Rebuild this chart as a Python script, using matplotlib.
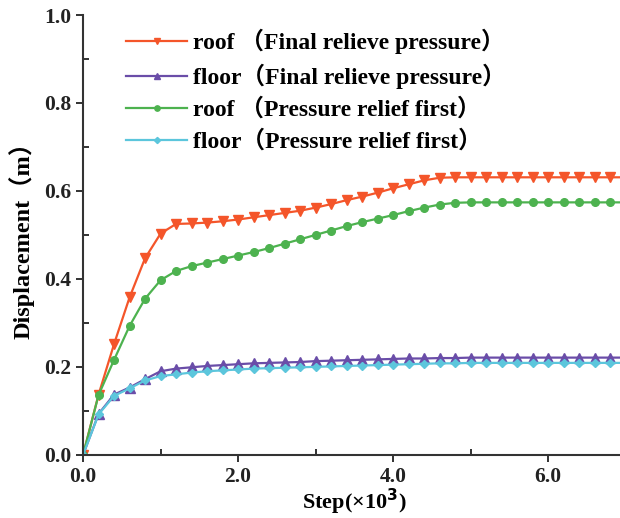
import numpy as np
import matplotlib
matplotlib.use('Agg')
import matplotlib.pyplot as plt
from matplotlib.ticker import MultipleLocator

plt.rcParams['font.family'] = ['Liberation Serif', 'Noto Sans CJK SC']
plt.rcParams['font.weight'] = 'bold'

# step values (x10^3), one point every 200 steps
steps = [round(0.2 * i, 1) for i in range(36)]

roof_final = [0.0, 0.137, 0.252, 0.358, 0.447, 0.503, 0.525, 0.526, 0.528, 0.531,
              0.535, 0.540, 0.545, 0.550, 0.555, 0.562, 0.570, 0.579, 0.587, 0.596,
              0.606, 0.615, 0.624, 0.630, 0.631, 0.631, 0.631, 0.631, 0.631, 0.631,
              0.631, 0.631, 0.631, 0.631, 0.631, 0.631]
floor_final = [0.0, 0.093, 0.137, 0.153, 0.172, 0.190, 0.196, 0.199, 0.202, 0.204,
               0.206, 0.208, 0.209, 0.210, 0.211, 0.213, 0.214, 0.215, 0.216, 0.217,
               0.218, 0.219, 0.219, 0.220, 0.220, 0.221, 0.221, 0.221, 0.221, 0.221,
               0.221, 0.221, 0.221, 0.221, 0.221, 0.221]
roof_first = [0.0, 0.136, 0.216, 0.293, 0.355, 0.397, 0.418, 0.429, 0.437, 0.445,
              0.453, 0.461, 0.470, 0.480, 0.490, 0.500, 0.510, 0.520, 0.529, 0.537,
              0.545, 0.554, 0.562, 0.569, 0.573, 0.574, 0.574, 0.574, 0.574, 0.574,
              0.574, 0.574, 0.574, 0.574, 0.574, 0.574]
floor_first = [0.0, 0.092, 0.134, 0.151, 0.169, 0.179, 0.183, 0.187, 0.190, 0.192,
               0.194, 0.196, 0.197, 0.198, 0.199, 0.200, 0.201, 0.202, 0.203, 0.204,
               0.205, 0.206, 0.207, 0.208, 0.208, 0.209, 0.209, 0.209, 0.209, 0.209,
               0.209, 0.209, 0.209, 0.209, 0.209, 0.209]

labels = ['roof （Final relieve pressure）', 'floor（Final relieve pressure）',
          'roof （Pressure relief first）', 'floor（Pressure relief first）']
colors = ['#F4552A', '#6A4DA8', '#4DB24F', '#5CC6DC']
markers = ['v', '^', 'o', 'D']
msizes = [6.5, 6.5, 5.5, 4.5]

fig = plt.figure(figsize=(6.2, 5.18), dpi=100)
ax = fig.add_axes([0.134, 0.122, 0.875, 0.849])

series = [roof_final, floor_final, roof_first, floor_first]
for ys, lab, c, m, ms in zip(series, labels, colors, markers, msizes):
    ax.plot(steps, ys, color=c, marker=m, markersize=ms, linewidth=1.6, label=lab)

ax.set_xlim(0, 7.0)
ax.set_ylim(0, 1.0)
ax.xaxis.set_major_locator(MultipleLocator(2.0))
ax.xaxis.set_minor_locator(MultipleLocator(1.0))
ax.yaxis.set_major_locator(MultipleLocator(0.2))
ax.yaxis.set_minor_locator(MultipleLocator(0.1))
ax.xaxis.set_major_formatter(plt.FormatStrFormatter('%.1f'))
ax.yaxis.set_major_formatter(plt.FormatStrFormatter('%.1f'))

for s in ['top', 'right']:
    ax.spines[s].set_visible(False)
for s in ['left', 'bottom']:
    ax.spines[s].set_linewidth(1.5)
    ax.spines[s].set_color('#333333')

ax.tick_params(which='major', direction='out', length=5, width=1.3, labelsize=15.5, colors='#222222')
ax.tick_params(which='minor', direction='in', length=4, width=1.3, colors='#222222')
for t in ax.get_xticklabels() + ax.get_yticklabels():
    t.set_fontweight('bold')

ax.set_xlabel('Step(×10$^\\mathbf{3}$)', fontsize=16, fontweight='bold', labelpad=0)
ax.set_ylabel('Displacement（m）', fontsize=17.5, fontweight='bold', labelpad=7)

ax.legend(loc='upper left', bbox_to_anchor=(0.04, 1.017), frameon=False, fontsize=17,
          handlelength=2.6, handletextpad=0.25, labelspacing=0.4, numpoints=1,
          markerscale=0.7)

fig.savefig('out.png', dpi=100)
